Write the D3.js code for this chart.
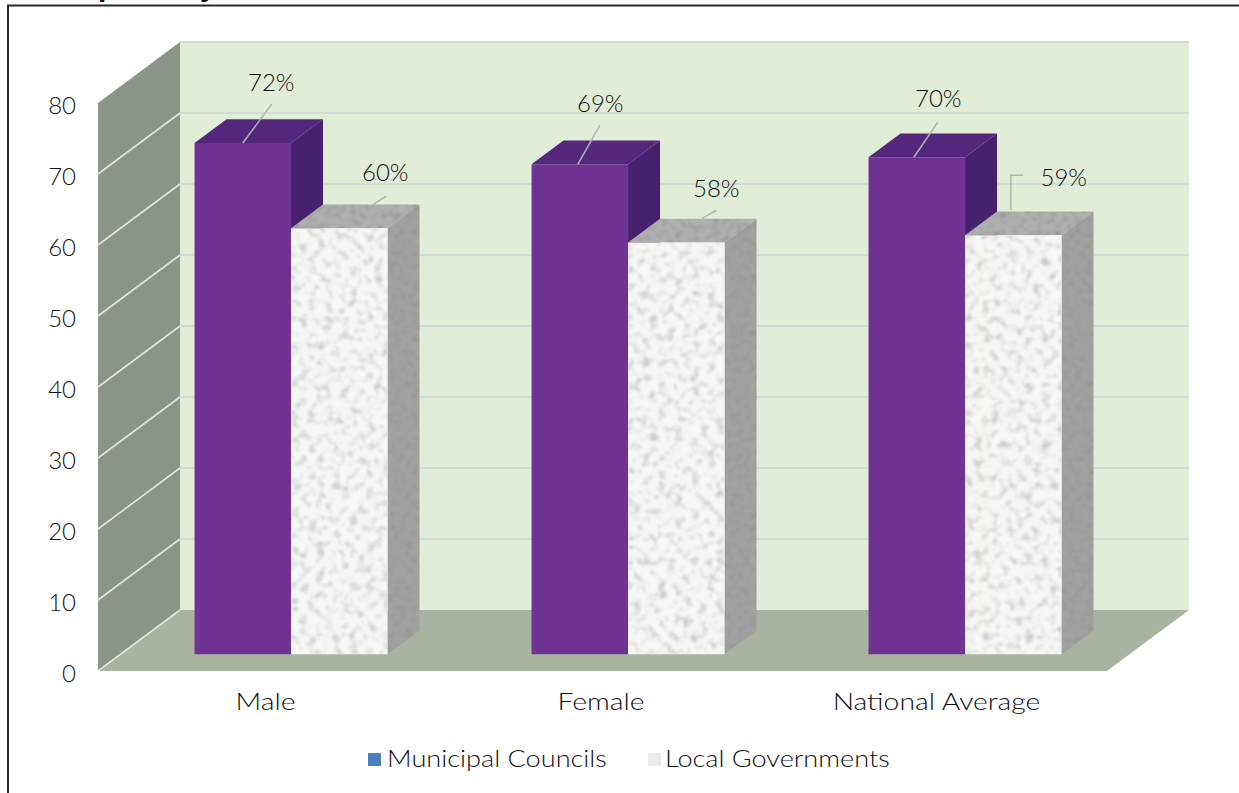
<!DOCTYPE html>
<html>
<head>
<meta charset="utf-8">
<script src="https://cdn.jsdelivr.net/npm/d3@7/dist/d3.min.js"></script>
<style>
html,body{margin:0;padding:0;background:#fff;overflow:hidden}
svg{display:block}
text{font-family:Lato,"Open Sans",sans-serif;font-weight:300;fill:#111}
</style>
</head>
<body>
<svg id="chart" width="1239" height="793"></svg>
<script>
// Chart values
const categories = ["Male", "Female", "National Average"];
const seriesNames = ["Municipal Councils", "Local Governments"];
const municipalCouncils = [72, 69, 70];
const localGovernments = [60, 58, 59];
const yTicks = [0, 10, 20, 30, 40, 50, 60, 70, 80];

// Leader lines and label anchors, as pixel offsets from the centre of each bar's top front edge
const municipalLeaders = [
  {line: [[0, 0], [29, -39]], label: [28.5, -61]},
  {line: [[-2, 0], [20, -39]], label: [20.5, -61]},
  {line: [[-3, 0], [21, -35]], label: [21.5, -59]}
];
const localLeaders = [
  {line: [[33, -23], [47, -32]], label: [46, -56]},
  {line: [[26, -24], [40, -32]], label: [40, -54]},
  {line: [[-2.5, -25], [-2.5, -60], [10, -60]], label: [50.5, -58]}
];

const svg = d3.select("#chart");

// Oblique 3D projection: z runs from the front plane (0) to the back wall (1)
const x = d3.scaleBand().domain(categories).range([100, 1111]);
const y = d3.scaleLinear().domain([0, 80]).range([671, 103]);
const zx = d3.scaleLinear().domain([0, 1]).range([0, 82]);
const zy = d3.scaleLinear().domain([0, 1]).range([0, -61]);
const inner = d3.scaleBand().domain(seriesNames).range([-96.5, 96.5]);
const labelX = d3.scalePoint().domain(categories).range([265.5, 936.5]);

const plotLeft = 98, plotRight = 1107;
const barFront = 0.275, barBack = 0.665;

const pt = (px, v, z) => [px + zx(z), y(v) + zy(z)];
const poly = pts => pts.map(p => p.map(n => n.toFixed(2)).join(",")).join(" ");

// Stretch a text horizontally, since the available sans faces run narrower than this chart's lettering
function widen(sel, factor) {
  sel.each(function () {
    const w = this.getComputedTextLength();
    d3.select(this).attr("textLength", (w * factor).toFixed(1)).attr("lengthAdjust", "spacingAndGlyphs");
  });
}

// Speckle textures for the stone-like series
const defs = svg.append("defs");
function stoneFilter(id, freq, slope, intercept, speck, blur) {
  const f = defs.append("filter").attr("id", id)
    .attr("x", "0").attr("y", "0").attr("width", "1").attr("height", "1")
    .attr("color-interpolation-filters", "sRGB");
  f.append("feTurbulence").attr("type", "fractalNoise")
    .attr("baseFrequency", freq).attr("numOctaves", 3).attr("seed", 7).attr("result", "n");
  f.append("feColorMatrix").attr("in", "n").attr("type", "matrix")
    .attr("values", `0 0 0 0 0  0 0 0 0 0  0 0 0 0 0  ${slope} 0 0 0 ${intercept}`).attr("result", "a0");
  f.append("feGaussianBlur").attr("in", "a0").attr("stdDeviation", blur).attr("result", "a");
  f.append("feFlood").attr("flood-color", speck).attr("result", "c");
  f.append("feComposite").attr("in", "c").attr("in2", "a").attr("operator", "in").attr("result", "s");
  f.append("feComposite").attr("in", "s").attr("in2", "SourceAlpha").attr("operator", "in").attr("result", "t");
  const m = f.append("feMerge");
  m.append("feMergeNode").attr("in", "SourceGraphic");
  m.append("feMergeNode").attr("in", "t");
}
stoneFilter("stoneFront", 0.12, 3.0, -1.45, "#cbcbc9", 1.0);
stoneFilter("stoneShade", 0.16, 2.2, -1.0, "#929292", 1.0);

const clip = defs.append("clipPath").attr("id", "pageTop");
clip.append("rect").attr("x", 0).attr("y", 0).attr("width", 1239).attr("height", 4);

// Frame around the figure, with the descenders of the heading cut off above it
const headTail = svg.append("g").attr("clip-path", "url(#pageTop)");
headTail.append("text").attr("x", 98).attr("y", -4)
  .style("font-family", "Liberation Sans").style("font-weight", 700).attr("font-size", 30).style("fill", "#111").text("p");
headTail.append("text").attr("x", 200).attr("y", -4)
  .style("font-family", "Liberation Sans").style("font-weight", 700).attr("font-size", 30).style("fill", "#111").text("y");
svg.append("path").attr("d", "M8,793V5.5H1239").attr("fill", "none").attr("stroke", "#2a2727").attr("stroke-width", 2);

// Walls and floor
const wall = svg.append("g");
wall.append("polygon").attr("fill", "#e2edd7")
  .attr("points", poly([pt(plotLeft, 0, 1), pt(plotLeft, 80, 1), pt(plotRight, 80, 1), pt(plotRight, 0, 1)]));
wall.append("line").attr("x1", pt(plotLeft, 80, 1)[0]).attr("x2", pt(plotRight, 80, 1)[0])
  .attr("y1", pt(0, 80, 1)[1]).attr("y2", pt(0, 80, 1)[1])
  .attr("stroke", "#d2dad0").attr("stroke-width", 2);
wall.append("polygon").attr("fill", "#8a9588")
  .attr("points", poly([pt(plotLeft, 0, 0), pt(plotLeft, 80, 0), pt(plotLeft, 80, 1), pt(plotLeft, 0, 1)]));
wall.append("polygon").attr("fill", "#a8b4a0")
  .attr("points", poly([pt(plotLeft, 0, 0), pt(plotLeft, 0, 1), pt(plotRight, 0, 1), pt(plotRight, 0, 0)]));

// Gridlines on the back wall and along the side wall
const gridTicks = yTicks.filter(t => t > 0 && t < 80);
wall.selectAll("line.back").data(gridTicks).join("line").attr("class", "back")
  .attr("x1", pt(plotLeft, 0, 1)[0]).attr("x2", pt(plotRight, 0, 1)[0])
  .attr("y1", d => pt(0, d, 1)[1]).attr("y2", d => pt(0, d, 1)[1])
  .attr("stroke", "#d0dcd6").attr("stroke-width", 2);
wall.selectAll("line.side").data(yTicks.filter(t => t < 80)).join("line").attr("class", "side")
  .attr("x1", plotLeft).attr("y1", d => y(d))
  .attr("x2", pt(plotLeft, 0, 1)[0]).attr("y2", d => pt(0, d, 1)[1])
  .attr("stroke", "#e0e6da").attr("stroke-width", 1.6);

// Value axis, with the domain hidden because the walls already draw it
const yAxis = svg.append("g").attr("transform", `translate(${plotLeft},0)`)
  .call(d3.axisLeft(y).tickValues(yTicks).tickSize(0).tickPadding(22));
yAxis.select(".domain").remove();
yAxis.selectAll("text").attr("font-size", 24)
  .style("font-family", "Lato,'Open Sans',sans-serif").style("font-weight", 300).style("fill", "#111")
  .attr("dy", ".42em");

// Category labels
svg.append("g").selectAll("text").data(categories).join("text")
  .attr("x", d => labelX(d)).attr("y", 710).attr("text-anchor", "middle")
  .attr("font-size", 24).text(d => d).call(widen, 1.18);

// Bars: each category draws municipal behind local so the shared edge reads correctly
const bars = svg.append("g");
function face(g, pts, fill, filter) {
  const p = g.append("polygon").attr("points", poly(pts)).attr("fill", fill);
  if (filter) p.attr("filter", `url(#${filter})`);
}
function drawBar(cat, name, value, colors) {
  const left = x(cat) + x.bandwidth() / 2 + inner(name);
  const right = left + inner.bandwidth();
  const g = bars.append("g");
  face(g, [pt(right, 0, barFront), pt(right, value, barFront), pt(right, value, barBack), pt(right, 0, barBack)], colors.side, colors.shade);
  face(g, [pt(left, value, barFront), pt(left, value, barBack), pt(right, value, barBack), pt(right, value, barFront)], colors.top, colors.shade);
  face(g, [pt(left, 0, barFront), pt(left, value, barFront), pt(right, value, barFront), pt(right, 0, barFront)], colors.front, colors.texture);
}
const purple = {front: "#6f3393", top: "#54277c", side: "#47216e"};
const stone = {front: "#f7f7f6", top: "#b0b0b0", side: "#a2a2a2", texture: "stoneFront", shade: "stoneShade"};
categories.forEach((cat, i) => {
  drawBar(cat, seriesNames[0], municipalCouncils[i], purple);
  drawBar(cat, seriesNames[1], localGovernments[i], stone);
});

// Value labels with their leader lines
const labels = svg.append("g");
function drawLabel(cat, name, value, leader) {
  const left = x(cat) + x.bandwidth() / 2 + inner(name);
  const [ax, ay] = pt(left + inner.bandwidth() / 2, value, barFront);
  labels.append("polyline")
    .attr("points", poly(leader.line.map(([dx, dy]) => [ax + dx, ay + dy])))
    .attr("fill", "none").attr("stroke", "#b0b2b4").attr("stroke-width", 1.5);
  labels.append("text").attr("x", ax + leader.label[0]).attr("y", ay + leader.label[1] + 8.5)
    .attr("text-anchor", "middle").attr("font-size", 24).text(value + "%");
}
categories.forEach((cat, i) => {
  drawLabel(cat, seriesNames[0], municipalCouncils[i], municipalLeaders[i]);
  drawLabel(cat, seriesNames[1], localGovernments[i], localLeaders[i]);
});

// Legend
const legendItems = [
  {name: seriesNames[0], sx: 368, tx: 387, fill: "#4a7fc1"},
  {name: seriesNames[1], sx: 648, tx: 665, fill: "#ebebe9"}
];
const legend = svg.append("g").selectAll("g").data(legendItems).join("g");
legend.append("rect").attr("x", d => d.sx).attr("y", 753).attr("width", 13).attr("height", 13).attr("fill", d => d.fill);
legend.append("text").attr("x", d => d.tx).attr("y", 767).attr("font-size", 24).text(d => d.name).call(widen, 1.13);
</script>
</body>
</html>
